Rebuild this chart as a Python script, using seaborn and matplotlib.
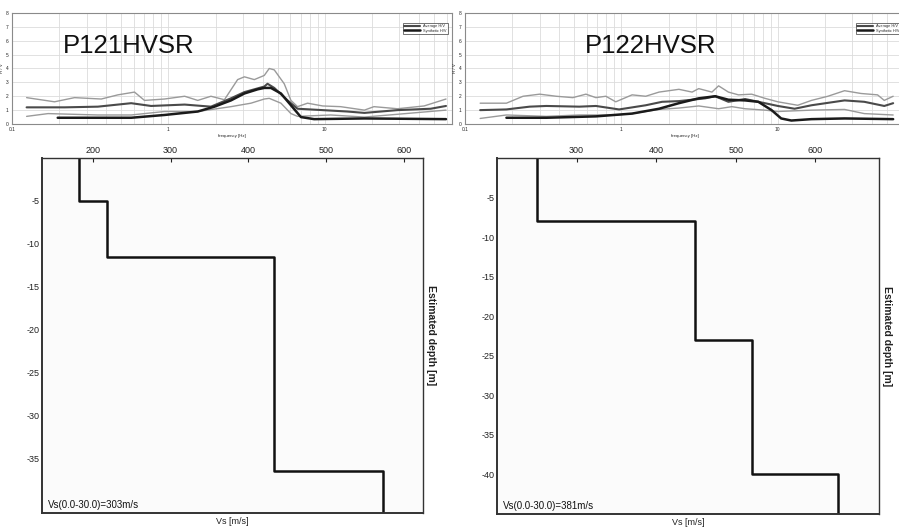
import matplotlib
matplotlib.use("Agg")
import numpy as np
import pandas as pd
import matplotlib.pyplot as plt
import seaborn as sns
from matplotlib.ticker import LogLocator, FixedLocator, FixedFormatter, NullFormatter

sns.set_style("white")
plt.rcParams['font.family'] = ['Liberation Sans', 'DejaVu Sans']

# --- P121: HVSR curves (frequency in Hz, amplitude H/V) ---
p121_hi_f = [0.124, 0.187, 0.251, 0.372, 0.475, 0.607, 0.703, 0.943, 1.27, 1.54, 1.87, 2.28,
             2.77, 3.06, 3.54, 4.10, 4.41, 4.75, 5.50, 6.07, 6.69, 7.75, 9.69, 12.6, 17.9, 20.6,
             29.1, 43.1, 59.5]
p121_hi_v = [1.9, 1.6, 1.9, 1.8, 2.1, 2.3, 1.7, 1.8, 2.0, 1.7, 2.0, 1.75,
             3.2, 3.4, 3.2, 3.5, 4.0, 3.9, 2.9, 1.7, 1.25, 1.5, 1.3, 1.25, 1.0, 1.25,
             1.1, 1.3, 1.8]
p121_avg_f = [0.124, 0.217, 0.354, 0.578, 0.775, 1.27, 1.87, 2.51, 3.06, 4.10, 4.30, 4.75,
              5.78, 6.69, 9.69, 13.9, 17.9, 29.1, 47.5, 59.5]
p121_avg_v = [1.2, 1.2, 1.25, 1.5, 1.3, 1.4, 1.25, 1.85, 2.3, 2.7, 2.9, 2.6,
              1.7, 1.1, 1.0, 0.9, 0.8, 1.0, 1.1, 1.3]
p121_lo_f = [0.124, 0.17, 0.354, 0.578, 0.943, 1.54, 2.51, 3.37, 4.10, 4.41, 5.24, 6.07,
             6.69, 10.9, 17.9, 29.1, 59.5]
p121_lo_v = [0.55, 0.75, 0.65, 0.65, 0.9, 0.9, 1.25, 1.5, 1.8, 1.85, 1.5, 0.75,
             0.55, 0.65, 0.5, 0.7, 1.0]
p121_syn_f = [0.196, 0.578, 0.943, 1.54, 1.97, 2.51, 3.06, 3.72, 4.10, 4.52, 5.24, 6.07,
              7.03, 8.54, 17.9, 59.5]
p121_syn_v = [0.45, 0.45, 0.65, 0.9, 1.25, 1.7, 2.2, 2.5, 2.6, 2.6, 2.2, 1.35,
              0.5, 0.35, 0.4, 0.35]

# --- P122: HVSR curves ---
p122_hi_f = [0.125, 0.184, 0.235, 0.300, 0.383, 0.489, 0.593, 0.687, 0.795, 0.92, 1.17, 1.43,
             1.74, 2.33, 2.83, 3.12, 3.79, 4.18, 4.83, 5.60, 6.80, 8.27, 10.0, 13.4, 16.4,
             20.9, 26.7, 34.0, 43.4, 47.9, 54.6]
p122_hi_v = [1.5, 1.5, 2.0, 2.15, 2.0, 1.9, 2.15, 1.9, 2.0, 1.6, 2.1, 2.0,
             2.3, 2.5, 2.3, 2.55, 2.3, 2.75, 2.3, 2.1, 2.15, 1.85, 1.6, 1.35, 1.7,
             2.0, 2.4, 2.2, 2.1, 1.7, 2.0]
p122_avg_f = [0.125, 0.184, 0.259, 0.331, 0.538, 0.687, 0.966, 1.43, 1.82, 2.33, 3.44, 3.98,
              4.83, 6.17, 8.27, 10.0, 12.8, 16.4, 26.7, 35.7, 47.9, 54.6]
p122_avg_v = [1.0, 1.05, 1.25, 1.3, 1.25, 1.3, 1.05, 1.35, 1.6, 1.65, 1.85, 2.0,
              1.6, 1.8, 1.5, 1.3, 1.1, 1.35, 1.7, 1.6, 1.3, 1.5]
p122_lo_f = [0.125, 0.184, 0.331, 0.538, 0.92, 1.17, 1.74, 2.33, 3.12, 4.18, 5.08, 6.17,
             8.27, 10.0, 16.4, 26.7, 35.7, 54.6]
p122_lo_v = [0.4, 0.65, 0.55, 0.65, 0.65, 0.75, 1.05, 1.15, 1.3, 1.1, 1.25, 1.1,
             1.0, 0.9, 1.0, 1.05, 0.75, 0.65]
p122_syn_f = [0.184, 0.331, 0.687, 1.17, 1.74, 2.33, 3.12, 3.98, 4.83, 6.17, 7.50, 9.12,
              10.5, 12.2, 16.4, 26.7, 54.6]
p122_syn_v = [0.45, 0.45, 0.55, 0.75, 1.1, 1.5, 1.85, 2.0, 1.75, 1.7, 1.6, 1.0,
              0.4, 0.25, 0.35, 0.4, 0.35]

# --- Vs profiles: layer top depth [m] and Vs [m/s] ---
p121_tops = [0, 5, 11.5, 36.5]
p121_vs = [183, 218, 433, 573]
p122_tops = [0, 8, 23, 40]
p122_vs = [250, 449, 520, 628]

W, H = 899, 532
fig = plt.figure(figsize=(W / 100, H / 100), dpi=100)
fig.patch.set_facecolor('white')


def px(l, t, r, b):
    return [l / W, 1 - b / H, (r - l) / W, (b - t) / H]


def hvsr_panel(rect, title, title_x, curves):
    ax = fig.add_axes(rect)
    ax.set_xscale('log')
    ax.set_xlim(0.1, 65)
    ax.set_ylim(0, 8)
    hi_f, hi_v, avg_f, avg_v, lo_f, lo_v, syn_f, syn_v = curves
    kw = dict(ax=ax, sort=False, estimator=None)
    sns.lineplot(x=hi_f, y=hi_v, color='#9a9a9a', lw=1.0, **kw)
    sns.lineplot(x=lo_f, y=lo_v, color='#9a9a9a', lw=1.0, **kw)
    sns.lineplot(x=avg_f, y=avg_v, color='#4a4a4a', lw=1.5, label='Average H/V', **kw)
    sns.lineplot(x=syn_f, y=syn_v, color='#1a1a1a', lw=1.8, label='Synthetic H/V', **kw)
    ax.xaxis.set_major_locator(FixedLocator([0.1, 1, 10]))
    ax.xaxis.set_major_formatter(FixedFormatter(['0.1', '1', '10']))
    ax.xaxis.set_minor_locator(LogLocator(base=10, subs=np.arange(2, 10)))
    ax.xaxis.set_minor_formatter(NullFormatter())
    ax.set_yticks(range(0, 9))
    ax.grid(True, which='both', color='#dcdcdc', lw=0.6)
    ax.tick_params(labelsize=3.5, length=1.5, pad=1)
    ax.tick_params(which='minor', length=0)
    for s in ax.spines.values():
        s.set_color('#8a8a8a')
        s.set_linewidth(0.8)
    ax.set_xlabel('frequency [Hz]', fontsize=3.2, labelpad=1)
    ax.set_ylabel('H / V', fontsize=3.2, labelpad=1)
    leg = ax.legend(loc='upper right', fontsize=2.8, frameon=True, fancybox=False,
                    handlelength=4, borderpad=0.4, labelspacing=0.1,
                    bbox_to_anchor=(0.995, 0.93))
    leg.get_frame().set_edgecolor('#333333')
    leg.get_frame().set_linewidth(0.6)
    ax.text(title_x, 0.64, title, transform=ax.transAxes, fontsize=18.5,
            color='#111111', va='baseline', ha='left')
    return ax


def vs_panel(rect, tops, vs, xlim, ylim, xticks, yticks, note):
    ax = fig.add_axes(rect)
    ax.set_facecolor('#fbfbfb')
    bottoms = tops[1:] + [-ylim[0] + 5]
    depth, vel = [], []
    for t, b, v in zip(tops, bottoms, vs):
        depth += [-t, -b]
        vel += [v, v]
    prof = pd.DataFrame({'Vs': vel, 'depth': depth})
    sns.lineplot(data=prof, x='Vs', y='depth', ax=ax, sort=False, estimator=None,
                 color='#111111', lw=1.8)
    ax.set_xlim(*xlim)
    ax.set_ylim(*ylim)
    ax.xaxis.tick_top()
    ax.set_xticks(xticks)
    ax.set_yticks(yticks)
    ax.set_yticklabels([str(y) for y in yticks])
    ax.tick_params(axis='both', direction='in', length=3, width=0.8, labelsize=6.5,
                   colors='#222222', pad=2)
    ax.xaxis.set_label_position('bottom')
    ax.set_xlabel('Vs [m/s]', fontsize=6.5, labelpad=3, color='#222222')
    ax.yaxis.set_label_position('right')
    ax.set_ylabel('Estimated depth [m]', fontsize=7.5, fontweight='bold', rotation=-90,
                  labelpad=9, color='#222222')
    for name, s in ax.spines.items():
        s.set_color('#333333')
        s.set_linewidth(1.4 if name in ('left', 'bottom') else 1.0)
    ax.text(0.015, 0.008, note, transform=ax.transAxes, fontsize=7, color='#111111',
            ha='left', va='bottom')
    return ax


hvsr_panel(px(12, 13, 452, 124), 'P121HVSR', 0.116,
           (p121_hi_f, p121_hi_v, p121_avg_f, p121_avg_v,
            p121_lo_f, p121_lo_v, p121_syn_f, p121_syn_v))
hvsr_panel(px(465, 13, 905, 124), 'P122HVSR', 0.272,
           (p122_hi_f, p122_hi_v, p122_avg_f, p122_avg_v,
            p122_lo_f, p122_lo_v, p122_syn_f, p122_syn_v))

vs_panel(px(42, 158, 423, 513), p121_tops, p121_vs, (135, 624), (-41.4, 0),
         [200, 300, 400, 500, 600], [-5, -10, -15, -20, -25, -30, -35],
         'Vs(0.0-30.0)=303m/s')
vs_panel(px(497, 158, 879, 514), p122_tops, p122_vs, (200, 680), (-45, 0),
         [300, 400, 500, 600], [-5, -10, -15, -20, -25, -30, -35, -40],
         'Vs(0.0-30.0)=381m/s')

fig.savefig('out.png', dpi=100)
